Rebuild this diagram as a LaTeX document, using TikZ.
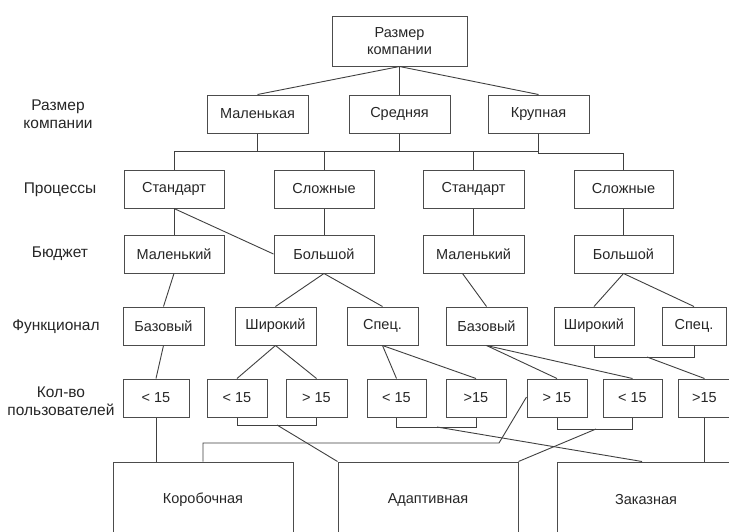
\documentclass[tikz,border=0pt]{standalone}
\usepackage{fontspec}
\setmainfont{Liberation Sans}
\usetikzlibrary{calc}
\begin{document}
\begin{tikzpicture}[x=1pt,y=-1pt,
  bx/.style={draw=black!70,line width=1pt,inner sep=0pt,text=black!85,font=\fontsize{14.5}{17}\selectfont,align=center},
  lbl/.style={inner sep=0pt,text=black!85,font=\fontsize{15.5}{18}\selectfont,align=center},
  ln/.style={draw=black!75,line width=0.9pt}]
\clip (0,0) rectangle (729,531);
\fill[white] (0,0) rectangle (729,531);
% left labels
\node[lbl] (l1) at (58,114) {Размер\\компании};
\node[lbl] (l2) at (60,190) {Процессы};
\node[lbl] (l3) at (60,254) {Бюджет};
\node[lbl] (l4) at (56,327) {Функционал};
\node[lbl] (l5) at (61,401) {Кол-во\\пользователей};
% top
\node[bx,minimum width=135,minimum height=50] (top) at (399.5,41) {Размер\\компании};
% row 1
\node[bx,minimum width=101,minimum height=38] (mal) at (257.5,114) {Маленькая};
\node[bx,minimum width=101,minimum height=38] (sred) at (399.5,114) {Средняя};
\node[bx,minimum width=101,minimum height=38] (krup) at (538.5,114) {Крупная};
% row 2
\node[bx,minimum width=100,minimum height=38] (std1) at (174,189) {Стандарт};
\node[bx,minimum width=100,minimum height=38] (slo2) at (324,189) {Сложные};
\node[bx,minimum width=101,minimum height=38] (std3) at (473.5,189) {Стандарт};
\node[bx,minimum width=99,minimum height=38] (slo4) at (623.5,189) {Сложные};
% row 3
\node[bx,minimum width=100,minimum height=38] (b1) at (174,254) {Маленький};
\node[bx,minimum width=100,minimum height=38] (b2) at (324,254) {Большой};
\node[bx,minimum width=101,minimum height=38] (b3) at (473.5,254) {Маленький};
\node[bx,minimum width=99,minimum height=38] (b4) at (623.5,254) {Большой};
% row 4
\node[bx,minimum width=81,minimum height=38] (f1) at (163.5,326) {Базовый};
\node[bx,minimum width=81,minimum height=38] (f2) at (275.5,326) {Широкий};
\node[bx,minimum width=71,minimum height=38] (f3) at (382.5,326) {Спец.};
\node[bx,minimum width=81,minimum height=38] (f4) at (486.5,326) {Базовый};
\node[bx,minimum width=80,minimum height=38] (f5) at (594,326) {Широкий};
\node[bx,minimum width=64,minimum height=38] (f6) at (694,326) {Спец.};
% row 5
\node[bx,minimum width=66,minimum height=38] (u1) at (156,398) {< 15};
\node[bx,minimum width=60,minimum height=38] (u2) at (237,398) {< 15};
\node[bx,minimum width=61,minimum height=38] (u3) at (316.5,398) {> 15};
\node[bx,minimum width=59,minimum height=38] (u4) at (396.5,398) {< 15};
\node[bx,minimum width=60,minimum height=38] (u5) at (476,398) {>15};
\node[bx,minimum width=60,minimum height=38] (u6) at (557,398) {> 15};
\node[bx,minimum width=59,minimum height=38] (u7) at (632.5,398) {< 15};
\node[bx,minimum width=53,minimum height=38] (u8) at (704.5,398) {>15};
% row 6
\node[bx,minimum width=180,minimum height=76] (kor) at (203,500) {Коробочная};
\node[bx,minimum width=180,minimum height=76] (adap) at (428,500) {Адаптивная};
\node[bx,minimum width=178,minimum height=76] (zak) at (646,500) {Заказная};
% connectors top -> row 1
\draw[ln] (top.south) -- (mal.north);
\draw[ln] (top.south) -- (sred.north);
\draw[ln] (top.south) -- (krup.north);
% bus row1 -> row2
\coordinate (busR) at (538.5,151);
\draw[ln] (std1.north) -- (std1.north |- busR) -- (busR);
\draw[ln] (mal.south) -- (mal.south |- busR);
\draw[ln,line width=1.8pt] (sred.south) -- (sred.south |- busR);
\draw[ln] (slo2.north) -- (slo2.north |- busR);
\draw[ln] (std3.north) -- (std3.north |- busR);
\draw[ln] (krup.south) -- ++(0,20) -| (slo4.north);
% row2 -> row3
\draw[ln] (std1.south) -- (b1.north);
\draw[ln] (std1.south) -- (b2.west);
\draw[ln] (slo2.south) -- (b2.north);
\draw[ln] (std3.south) -- (b3.north);
\draw[ln] (slo4.south) -- (b4.north);
% row3 -> row4
\draw[ln] (b1.south) -- (f1.north);
\draw[ln] (b2.south) -- (f2.north);
\draw[ln] (b2.south) -- (f3.north);
\draw[ln] ([xshift=-11pt]b3.south) -- (f4.north);
\draw[ln] (b4.south) -- (f5.north);
\draw[ln] (b4.south) -- (f6.north);
% row4 -> row5
\draw[ln] (f1.south) -- (u1.north);
\draw[ln] (f2.south) -- (u2.north);
\draw[ln] (f2.south) -- (u3.north);
\draw[ln] (f3.south) -- (u4.north);
\draw[ln] (f3.south) -- (u5.north);
\draw[ln] (f4.south) -- (u6.north);
\draw[ln] (f4.south) -- (u7.north);
\draw[ln] (f5.south) -- ++(0,12) -| (f6.south);
\coordinate (m56) at (647,357);
\draw[ln] (m56) -- (u8.north);
% row5 -> row6
\draw[ln] (u1.south) -- (u1.south |- kor.north);
\draw[ln] (u2.south) -- ++(0,8) -| (u3.south);
\coordinate (m23) at (277,425);
\draw[ln] (m23) -- (adap.north west);
\draw[ln] (u4.south) -- ++(0,10) -| (u5.south);
\coordinate (m45) at (437,427);
\draw[ln] (m45) -- ([xshift=-4pt]zak.north);
\draw[ln] (u6.south) -- ++(0,12) -| (u7.south);
\coordinate (m67) at (596,429);
\draw[ln] (m67) -- (adap.north east);
\coordinate (k1) at (499,443);
\draw[ln] ([yshift=1pt]u6.west) -- (k1) -- (k1 -| kor.north) -- (kor.north);
\draw[ln] (u8.south) -- (u8.south |- zak.north);
\end{tikzpicture}
\end{document}
